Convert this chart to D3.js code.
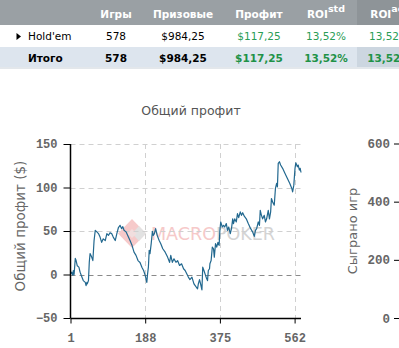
<!DOCTYPE html>
<html><head><meta charset="utf-8">
<script src="https://cdn.jsdelivr.net/npm/d3@7"></script>
<style>
html,body{margin:0;padding:0;background:#fff;overflow:hidden}
svg{display:block}
</style></head>
<body>
<script>
// ---------- data ----------
const tableHeaders = ["Игры", "Призовые", "Профит", "ROI", "ROI"];
const tableSups = ["", "", "", "std", "adj"];
const rowNames = ["Hold'em", "Итого"];
const rowGames = ["578", "578"];
const rowPrize = ["$984,25", "$984,25"];
const rowProfit = ["$117,25", "$117,25"];
const rowRoiStd = ["13,52%", "13,52%"];
const rowRoiAdj = ["13,52%", "13,52%"];

const chartTitle = "Общий профит";
const yLabel = "Общий профит ($)";
const y2Label = "Сыграно игр";
const xTicks = [1, 188, 375, 562];
const yTicks = [-50, 0, 50, 100, 150];
const y2Ticks = [0, 200, 400, 600];

const games = [1,4,7,8,10,13,15,18,22,25,29,33,38,40,42,43,46,48,50,54,57,60,63,67,71,75,79,83,88,92,96,100,104,108,113,117,121,125,129,132,135,140,146,150,155,160,165,170,175,180,184,188,192,194,196,198,200,203,206,208,211,214,218,223,227,232,238,244,249,252,256,260,265,269,274,279,284,288,292,296,300,305,310,315,319,321,324,327,330,332,335,339,342,344,346,349,350,353,356,359,361,364,367,370,373,375,377,381,384,387,391,394,397,401,404,407,409,412,416,419,422,426,429,432,436,441,446,452,457,461,464,467,471,474,476,479,482,486,489,492,496,499,502,504,507,511,514,517,519,521,524,527,532,538,544,550,555,557,560,563,565,569,571,574,576,578];
const profit = [0,2.7,-1,4.6,0,18.5,16,10,8.5,2.7,-2.3,-7,-9,-12.7,-9,-10.7,-7,14,24,20,16,39,50.8,49,47,43,37,41,39,47,45,48,47,43,39,47,54,56.5,52.7,55,50.8,49,43,39,33.5,25.7,22,16,13.8,8,4.6,-1,-9,1,8.4,27.7,24,35.5,49.6,45,47,52.7,45,39,35.4,29.6,25.7,20,14,22,14,18,14,16,10.4,12.3,6.6,4.6,0.8,-3,-5.8,-3,-10.7,-14,-16.5,-10.7,-5.8,-11.5,-17.7,8.4,4.6,-1,-5,-7,4.6,6.6,12.3,16,31.5,29.6,20,35.4,31.5,37,33.5,50.8,60.4,54.6,56.5,54.6,58.5,50.8,54.6,47,52.7,64,58.5,64,60.4,70,65.4,72,68,71,67,64,58.5,52.7,48.8,43.8,50.8,52.7,60.4,56.5,73.8,68,64,68,60.4,64,73.8,64,72,87.3,83.4,79.6,98.9,104.7,100.7,127.7,129.6,125.8,122,116.2,110.4,104.7,98.9,95,102.7,122,128.4,123.8,125.8,120,122,117.25];

// ---------- drawing ----------
const W = 399, H = 348;
const svg = d3.select("body").append("svg").attr("width", W).attr("height", H);
const bodyFont = "'DejaVu Sans', Verdana, sans-serif";
const monoFont = "'Liberation Mono', 'DejaVu Sans Mono', monospace";

// table
const colX = [116, 183, 259, 326, 389];
const lastColX0 = 357;
svg.append("rect").attr("x",0).attr("y",0).attr("width",W).attr("height",25).attr("fill","#9aa0a4");
svg.append("rect").attr("x",lastColX0).attr("y",0).attr("width",W-lastColX0).attr("height",25).attr("fill","#8e9498");
svg.append("rect").attr("x",0).attr("y",47).attr("width",W).attr("height",20).attr("fill","#dde5ee");
svg.append("rect").attr("x",lastColX0).attr("y",47).attr("width",W-lastColX0).attr("height",20).attr("fill","#ccd6e0");
svg.append("rect").attr("x",0).attr("y",67).attr("width",W).attr("height",2).attr("fill","#e3e7eb");

tableHeaders.forEach((h,i)=>{
  const t = svg.append("text").attr("x",colX[i]).attr("y",18).attr("text-anchor","middle")
    .attr("font-family",bodyFont).attr("font-size","10.5px").attr("font-weight","bold").attr("fill","#fff");
  t.append("tspan").text(h);
  if (tableSups[i]) t.append("tspan").attr("dy",-6).attr("font-size","9.5px").text(tableSups[i]);
});
svg.append("path").attr("d","M16.5,33 L21,36.5 L16.5,40 Z").attr("fill","#000");
const rowY = [40, 62];
rowNames.forEach((n,r)=>{
  const bold = r===1 ? "bold" : "normal";
  const cells = [rowGames[r], rowPrize[r], rowProfit[r], rowRoiStd[r], rowRoiAdj[r]];
  svg.append("text").attr("x", r===0?28:28).attr("y",rowY[r]).attr("font-family",bodyFont)
    .attr("font-size","10.5px").attr("font-weight",bold).attr("fill","#000").text(n);
  cells.forEach((c,i)=>{
    svg.append("text").attr("x",colX[i]).attr("y",rowY[r]).attr("text-anchor","middle")
      .attr("font-family",bodyFont).attr("font-size","10.5px").attr("font-weight",bold)
      .attr("fill", i>=2 ? (r===1?"#1f9247":"#2a9d55") : "#000").text(c);
  });
});

// chart
const x = d3.scaleLinear().domain([1,578]).range([70.5,301]);
const y = d3.scaleLinear().domain([-50,150]).range([318,144]);
const y2 = d3.scaleLinear().domain([0,600]).range([318,143.5]);

svg.append("text").attr("x",191).attr("y",115).attr("text-anchor","middle")
  .attr("font-family",bodyFont).attr("font-size","12.5px").attr("fill","#555").text(chartTitle);

// watermark
const wm = svg.append("g");
wm.append("path").attr("d","M132,219 L146,233.5 L132,248 L118,233.5 Z").attr("fill","#f6caca");
wm.append("path").attr("d","M139,226 L146,233.5 L139,241 L132,233.5 Z").attr("fill","#e2e2e2");
wm.append("path").attr("d","M132,229 L136.5,233.5 L132,238 L127.5,233.5 Z").attr("fill","#f1dede");
const wt = wm.append("text").attr("x",151).attr("y",240).attr("font-family",bodyFont).attr("font-size","17.5px");
wt.append("tspan").attr("fill","#f6c9c9").text("MACRO");
wt.append("tspan").attr("fill","#d4d4d4").text("POKER");

// grid
const grid = svg.append("g");
yTicks.filter(v=>v>-50).forEach(v=>{
  grid.append("line").attr("x1",70.5).attr("x2",301).attr("y1",Math.round(y(v))+0.5).attr("y2",Math.round(y(v))+0.5)
    .attr("stroke", v===0 ? "#8a8a8a" : "#d0d0d0").attr("stroke-dasharray","5,4");
});
xTicks.filter(v=>v>1).forEach(v=>{
  grid.append("line").attr("x1",Math.round(x(v))+0.5).attr("x2",Math.round(x(v))+0.5).attr("y1",144).attr("y2",318)
    .attr("stroke","#d0d0d0").attr("stroke-dasharray","5,4");
});

// line
const pts = games.map((g,i)=>[g, profit[i]]);
svg.append("path").datum(pts)
  .attr("d", d3.line().x(d=>x(d[0])).y(d=>y(d[1])))
  .attr("fill","none").attr("stroke","#22688f").attr("stroke-width",1.2).attr("stroke-linejoin","round");

// axes
const yAxis = svg.append("g").attr("transform","translate(70.5,0)")
  .call(d3.axisLeft(y).tickValues(yTicks).tickSize(7).tickPadding(6));
const xAxis = svg.append("g").attr("transform","translate(0,318.5)")
  .call(d3.axisBottom(x).tickValues(xTicks).tickSize(5).tickPadding(10));
[yAxis, xAxis].forEach(a=>{
  a.select(".domain").attr("stroke","#000").attr("stroke-width",1.5);
  a.selectAll(".tick line").attr("stroke","#000");
  a.selectAll("text").attr("font-family",monoFont).attr("font-size","12px").attr("font-weight","bold").attr("fill","#666");
});
xAxis.select(".domain").attr("d","M70.5,0H301");
yAxis.select(".domain").attr("d","M0,144V318");

svg.append("text").attr("transform","translate(25,226) rotate(-90)").attr("text-anchor","middle")
  .attr("font-family",bodyFont).attr("font-size","13.5px").attr("fill","#666").text(yLabel);

// right chart axis (partially visible)
const y2Axis = svg.append("g").attr("transform","translate(400,0)")
  .call(d3.axisLeft(y2).tickValues(y2Ticks).tickSize(6).tickPadding(4));
y2Axis.select(".domain").remove();
y2Axis.selectAll(".tick line").attr("stroke","#000");
y2Axis.selectAll("text").attr("font-family",monoFont).attr("font-size","12.5px").attr("font-weight","bold").attr("fill","#666");
svg.append("text").attr("transform","translate(357,231) rotate(-90)").attr("text-anchor","middle")
  .attr("font-family",bodyFont).attr("font-size","13px").attr("fill","#666").text(y2Label);
</script>
</body></html>
